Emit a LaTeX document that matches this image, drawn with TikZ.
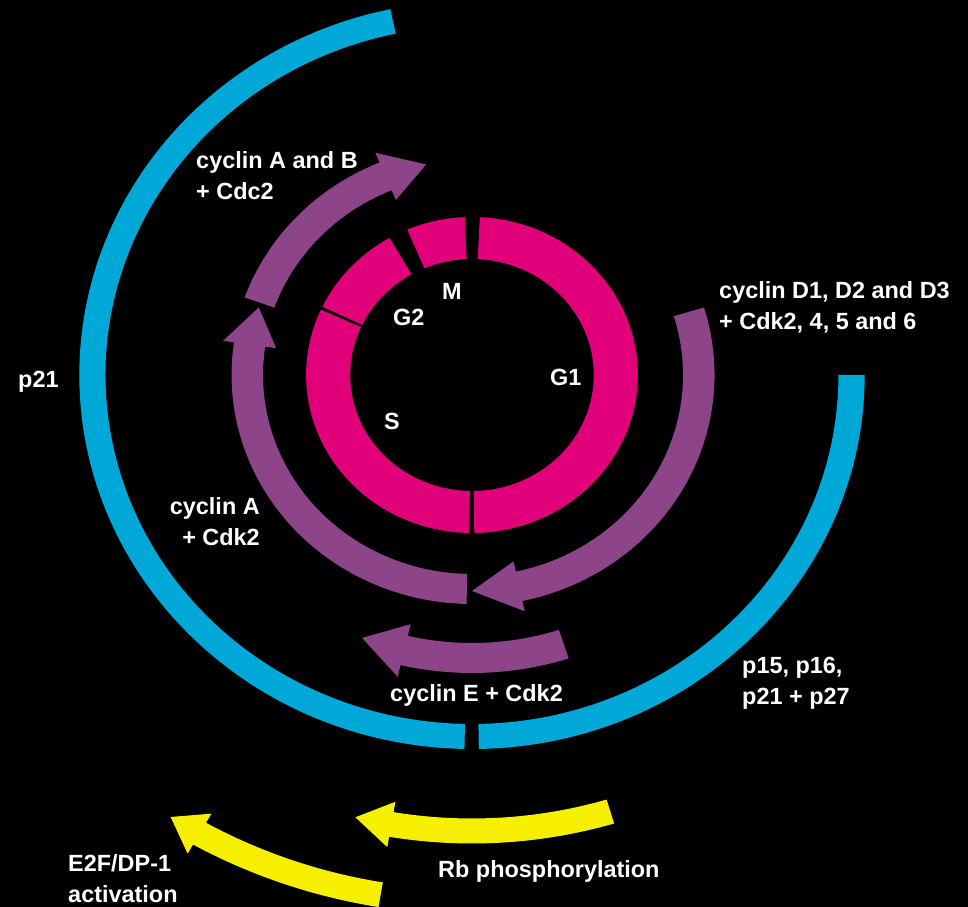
\documentclass[tikz,border=0pt]{standalone}
\usepackage{fontspec}
\setmainfont{Liberation Sans}
\definecolor{momo}{HTML}{E2007A}
\definecolor{murasaki}{HTML}{8E4489}
\definecolor{sora}{HTML}{00A8D8}
\definecolor{kiiro}{HTML}{F7EF00}

\begin{document}
\begin{tikzpicture}[x=0.03cm, y=0.03cm,
    lbl/.style={text=white, inner sep=0pt, font=\bfseries\fontsize{20}{27}\selectfont}]
    \path[use as bounding box, fill=black] (-472, 375) rectangle (496, -532);

    \begin{scope}[xscale=1.05]
    % phases
    \foreach \a / \b in {-89.2/87.3, 92.5/113, 119.8/154.4, 155.6/269}
        \fill[momo] (\a:116) arc[start angle=\a, end angle=\b, radius=116]
            -- (\b:158) arc[start angle=\b, end angle=\a, radius=158] -- cycle;

    % inhibitors
    \foreach \a / \b in {102/268.9, 271/360}
        \fill[sora] (\a:349) arc[start angle=\a, end angle=\b, radius=349]
            -- (\b:374) arc[start angle=\b, end angle=\a, radius=374] -- cycle;

    % arrows: colour / radius / half width / tail / head base / tip / head half width
    \foreach \c / \r / \w / \t / \h / \p / \hw in {
            murasaki/216/15/17/-78/-90/25.5,
            murasaki/214/15/268.7/171.8/161.6/25.5,
            murasaki/215/15/160.3/112.5/101.7/25.5,
            murasaki/283/15/288/256.8/248.3/27,
            kiiro/456/12.5/286.8/260.3/255.9/23,
            kiiro/527/12.5/260.5/240.5/237/23}
        \fill[\c] (\t:{\r-\w}) arc[start angle=\t, end angle=\h, radius=\r-\w]
            -- (\h:{\r-\hw}) -- (\p:\r) -- (\h:{\r+\hw})
            -- (\h:{\r+\w}) arc[start angle=\h, end angle=\t, radius=\r+\w] -- cycle;
    \end{scope}

    % labels (two-line ones sit on their last line)
    \node[lbl, anchor=base west] (mphase) at (-30, 75) {M};
    \node[lbl, anchor=base west] (gtwo) at (-79, 49) {G2};
    \node[lbl, anchor=base west] (gone) at (78, -11) {G1};
    \node[lbl, anchor=base west] (sphase) at (-88, -55) {S};

    \node[lbl, anchor=base west] (ptwoone) at (-454, -13) {p21};
    \node[lbl, anchor=base west, align=left] (cycab) at (-276, 175) {cyclin A and B\\+ Cdc2};
    \node[lbl, anchor=base west, align=left] (cycd) at (247, 45) {cyclin D1, D2 and D3\\+ Cdk2, 4, 5 and 6};
    \node[lbl, anchor=base east, align=right] (cyca) at (-212, -171) {cyclin A\\+ Cdk2};
    \node[lbl, anchor=base west, align=left] (pinhib) at (270, -330) {p15, p16,\\p21 + p27};
    \node[lbl, anchor=base west] (cyce) at (-82, -327) {cyclin E + Cdk2};
    \node[lbl, anchor=base west, align=left] (etwof) at (-404, -528) {E2F/DP-1\\activation};
    \node[lbl, anchor=base west] (rbphos) at (-34, -503) {Rb phosphorylation};
\end{tikzpicture}
\end{document}
